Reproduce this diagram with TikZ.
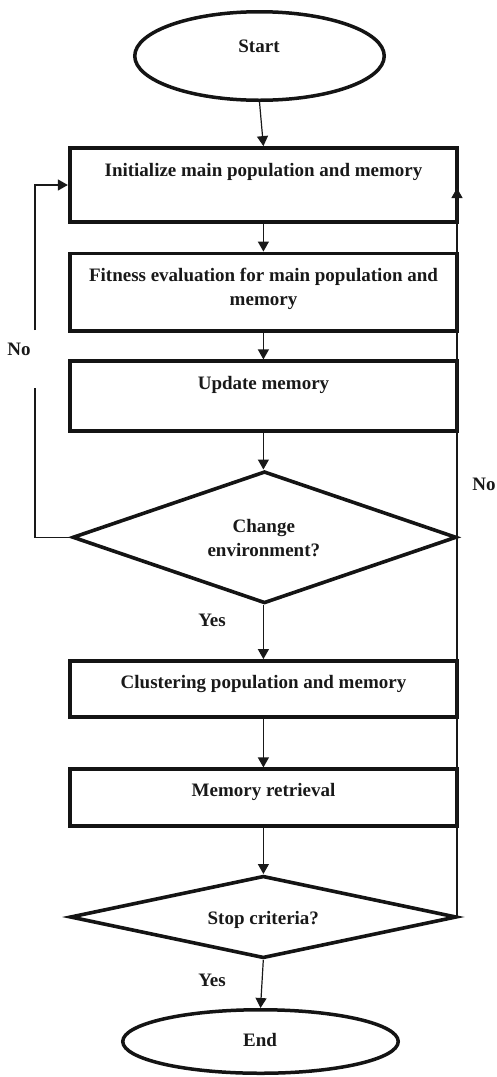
\documentclass[tikz,border=0pt]{standalone}
\usepackage{fontspec}
\setmainfont{Liberation Serif}
\usetikzlibrary{shapes.geometric,arrows.meta}
\begin{document}
\begin{tikzpicture}[x=1pt,y=-1pt,
  heavy/.style={draw=black!92, line width=3.8pt},
  boxnode/.style={heavy, rectangle, minimum width=387.3pt, inner sep=0pt},
  ellnode/.style={heavy, ellipse, inner sep=0pt, line width=3.5pt},
  dianode/.style={heavy, diamond, inner sep=0pt, line width=3.6pt},
  txt/.style={font=\fontsize{19}{24}\selectfont\bfseries, inner sep=0pt, anchor=base, align=center, text=black!90},
  conn/.style={draw=black!90, line width=1.2pt},
  arr/.style={conn, -{Triangle[length=10pt,width=11pt]}}
]
\useasboundingbox (0,0) rectangle (496,1077);

% shapes
\node[ellnode, minimum width=249.5pt, minimum height=88.5pt] (start) at (259.5,56) {};
\node[boxnode, minimum height=74pt]   (b1) at (263.4,185) {};
\node[boxnode, minimum height=77.5pt] (b2) at (263.4,292.2) {};
\node[boxnode, minimum height=70pt]   (b3) at (263.4,396.3) {};
\node[dianode, minimum width=384pt, minimum height=132pt] (d1) at (264.5,537.3) {};
\node[boxnode, minimum height=56pt]   (b4) at (263.4,689) {};
\node[boxnode, minimum height=57pt]   (b5) at (263.4,797.8) {};
\node[dianode, minimum width=386.5pt, minimum height=82.4pt] (d2) at (263.3,917) {};
\node[ellnode, minimum width=275.5pt, minimum height=63.5pt] (end) at (260.5,1041.5) {};

% texts (multi-line nodes: base = baseline of last line)
\node[txt] (tstart) at (259,52.7) {Start};
\node[txt] (t1) at (263.5,176.7) {Initialize main population and memory};
\node[txt] (t2) at (263.5,305) {Fitness evaluation for main population and\\memory};
\node[txt] (t3) at (263.5,389) {Update memory};
\node[txt] (td1) at (263.8,556.7) {Change\\environment?};
\node[txt] (t4) at (263.5,688) {Clustering population and memory};
\node[txt] (t5) at (263.5,796.7) {Memory retrieval};
\node[txt] (td2) at (263.3,924.3) {Stop criteria?};
\node[txt] (tend) at (260,1046.7) {End};
\node[txt] (no1) at (19,355) {No};
\node[txt] (no2) at (484,490.7) {No};
\node[txt] (yes1) at (212,626.7) {Yes};
\node[txt] (yes2) at (212,986.7) {Yes};

% helper coordinates
\coordinate (lx) at (35,537.3);
\coordinate (lg1) at (35,388);
\coordinate (lg2) at (35,330);
\coordinate (rs) at (457,917);
\coordinate (rt) at (457,188);

% connectors
\draw[arr] (start.south) -- (b1.north);
\draw[arr] (b1.south) -- (b2.north);
\draw[arr] (b2.south) -- (b3.north);
\draw[arr] (b3.south) -- (b3.south |- d1.north);
\draw[arr] (b4.north |- d1.south) -- (b4.north);
\draw[arr] (b4.south) -- (b5.north);
\draw[arr] (b5.south) -- (b5.south |- d2.north);
\draw[arr] (d2.south) -- (end.north);
\draw[conn] (d1.west) -- (lx) -- (lg1);
\draw[arr] (lg2) |- (b1.west);
\draw[arr] (rs) -- (rt);
\end{tikzpicture}
\end{document}
